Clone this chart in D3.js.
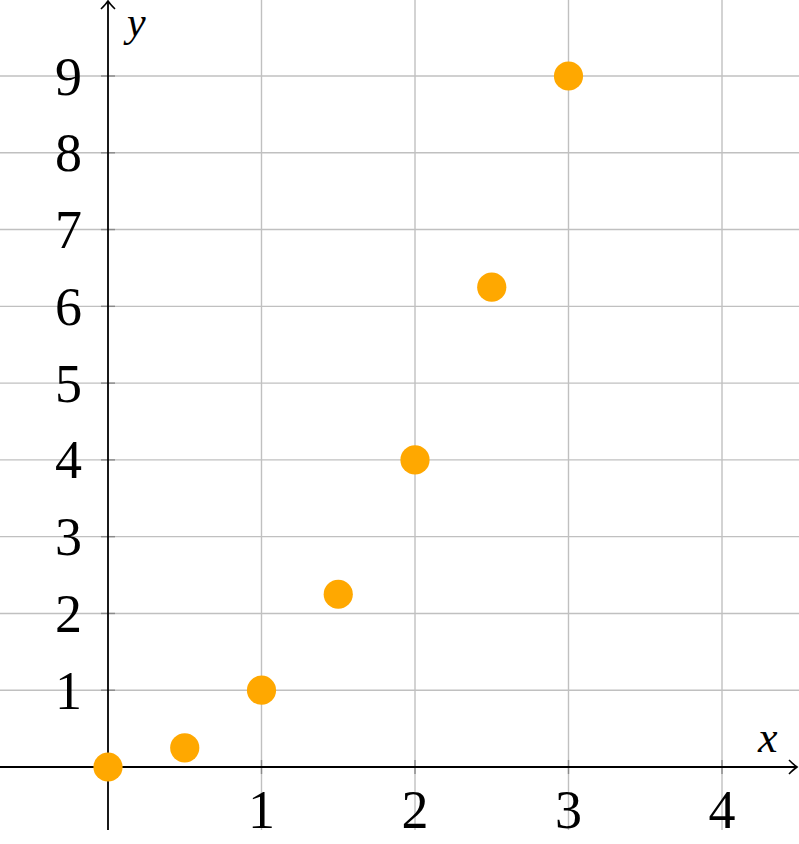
<!DOCTYPE html>
<html>
<head>
<meta charset="utf-8">
<script src="https://cdn.jsdelivr.net/npm/d3@7"></script>
<style>
  html, body { margin: 0; padding: 0; background: #fff; }
  svg { display: block; }
</style>
</head>
<body>
<svg id="chart" width="799" height="844"></svg>
<script>
const xValues = [0, 0.5, 1, 1.5, 2, 2.5, 3];
const yValues = [0, 0.25, 1, 2.25, 4, 6.25, 9];
const xTicks = [1, 2, 3, 4];
const yTicks = [1, 2, 3, 4, 5, 6, 7, 8, 9];
const xLabel = "x";
const yLabel = "y";

const W = 799, H = 844;
const svg = d3.select("#chart");
const x = d3.scaleLinear().domain([0, 4]).range([108, 722]);
const y = d3.scaleLinear().domain([0, 9]).range([767, 76]);

const gridColor = "#c0c0c0";
const x0 = x(0), y0 = y(0);
const xMinPx = 0, xMaxPx = 797, yTopPx = 1, yBotPx = 830;

// grid
svg.append("g").selectAll("line.v").data(xTicks).join("line")
  .attr("x1", d => x(d)).attr("x2", d => x(d))
  .attr("y1", 0).attr("y2", yBotPx)
  .attr("stroke", gridColor).attr("stroke-width", 1.4);
svg.append("g").selectAll("line.h").data(yTicks).join("line")
  .attr("x1", 0).attr("x2", W)
  .attr("y1", d => y(d)).attr("y2", d => y(d))
  .attr("stroke", gridColor).attr("stroke-width", 1.4);

// tick marks
svg.append("g").selectAll("line").data(xTicks).join("line")
  .attr("x1", d => x(d)).attr("x2", d => x(d))
  .attr("y1", y0 - 7).attr("y2", y0 + 7)
  .attr("stroke", "#8a8a8a").attr("stroke-width", 1.4);
svg.append("g").selectAll("line").data(yTicks).join("line")
  .attr("x1", x0 - 7).attr("x2", x0 + 7)
  .attr("y1", d => y(d)).attr("y2", d => y(d))
  .attr("stroke", "#8a8a8a").attr("stroke-width", 1.4);

// axes
svg.append("line").attr("x1", xMinPx).attr("x2", xMaxPx)
  .attr("y1", y0).attr("y2", y0).attr("stroke", "#000").attr("stroke-width", 1.8);
svg.append("line").attr("x1", x0).attr("x2", x0)
  .attr("y1", yBotPx).attr("y2", yTopPx).attr("stroke", "#000").attr("stroke-width", 1.8);
// arrow heads
svg.append("path")
  .attr("d", `M${xMaxPx - 8},${y0 - 7} Q${xMaxPx - 3},${y0 - 2} ${xMaxPx},${y0} Q${xMaxPx - 3},${y0 + 2} ${xMaxPx - 8},${y0 + 7}`)
  .attr("fill", "none").attr("stroke", "#000").attr("stroke-width", 1.6);
svg.append("path")
  .attr("d", `M${x0 - 7},${yTopPx + 8} Q${x0 - 2},${yTopPx + 3} ${x0},${yTopPx} Q${x0 + 2},${yTopPx + 3} ${x0 + 7},${yTopPx + 8}`)
  .attr("fill", "none").attr("stroke", "#000").attr("stroke-width", 1.6);

// tick labels
const fontFam = "'Liberation Serif', 'DejaVu Serif', serif";
svg.append("g").selectAll("text").data(xTicks).join("text")
  .attr("x", d => x(d)).attr("y", 828)
  .attr("text-anchor", "middle")
  .attr("font-family", fontFam).attr("font-size", 54)
  .text(d => d);
svg.append("g").selectAll("text").data(yTicks).join("text")
  .attr("x", 82).attr("y", d => y(d) + 18.5)
  .attr("text-anchor", "end")
  .attr("font-family", fontFam).attr("font-size", 54)
  .text(d => d);

// axis labels
svg.append("text").attr("x", 758).attr("y", 752)
  .attr("font-family", fontFam).attr("font-style", "italic").attr("font-size", 44)
  .text(xLabel);
svg.append("text").attr("x", 127).attr("y", 36)
  .attr("font-family", fontFam).attr("font-style", "italic").attr("font-size", 42)
  .text(yLabel);

// points
const pts = xValues.map((v, i) => ({ x: v, y: yValues[i] }));
svg.append("g").selectAll("circle").data(pts).join("circle")
  .attr("cx", d => x(d.x)).attr("cy", d => y(d.y))
  .attr("r", 14.6).attr("fill", "#ffa800");
</script>
</body>
</html>
